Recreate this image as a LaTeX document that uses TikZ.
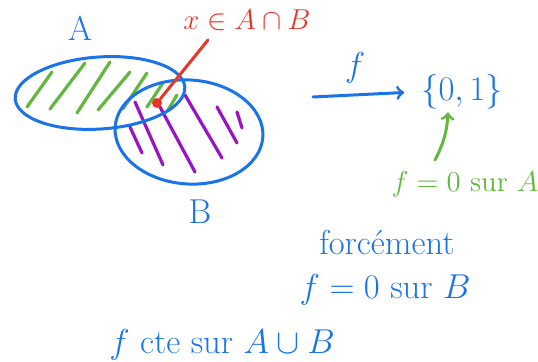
\documentclass[tikz,border=0pt]{standalone}
\usepackage{amsmath}
\usepackage{amssymb}
\usepackage{xcolor}
\definecolor{penblue}{HTML}{1A73E8}
\definecolor{pengreen}{HTML}{62B83E}
\definecolor{penred}{HTML}{E8352A}
\definecolor{penpurple}{HTML}{9A14C4}
\newcommand{\setA}{(100,269) ellipse [x radius=85, y radius=36, rotate=4]}
\newcommand{\setB}{(189,230) ellipse [x radius=74, y radius=52, rotate=-4]}

\begin{document}
\begin{tikzpicture}[x=0.5pt, y=0.5pt, every node/.style={font=\LARGE}, pen/.style={line width=1.5pt, line cap=round}, hatch/.style={line width=1.6pt, line cap=round}]

  \useasboundingbox (0,0) rectangle (538,362);

  % hatching of A and of B
  \foreach \xa/\ya/\xb/\yb in {27/255/52/290, 50/253/85/299, 77/249/110/300, 98/252/130/290, 123/253/147/289, 147/255/163/279, 168/252/177/267}
    \draw[hatch, pengreen] (\xa,\ya) -- (\xb,\yb);
  \foreach \xa/\ya/\xb/\yb in {135/260/163/197, 130/235/142/209, 160/255/195/190, 185/267/222/204, 217/255/237/219, 237/250/242/234}
    \draw[hatch, penpurple] (\xa,\ya) -- (\xb,\yb);

  \draw[pen, penblue] \setA;
  \draw[pen, penblue] \setB;
  \node[penblue] (labA) at (80,334) {A};
  \node[penblue] (labB) at (200,150) {B};

  % the point x
  \node[circle, fill=penred, inner sep=0pt, minimum size=5pt] (ptx) at (157,259) {};
  \node[penred, font=\Large] (labx) at (247,342) {$x\in A\cap B$};
  \coordinate (xtip) at (208,322);
  \draw[pen, penred] (ptx) -- (xtip);

  % the map f
  \coordinate (fstart) at (313,265);
  \node[penblue] (img) at (462,270) {$\{0,1\}$};
  \draw[pen, penblue, ->, shorten >=5pt] (fstart) -- (img.west);
  \node[penblue] (labf) at (355,294) {$f$};

  \node[pengreen, font=\Large] (onA) at (465,178) {$f=0$ sur $A$};
  \coordinate (gfoot) at (435,202);
  \draw[pen, pengreen, ->] (gfoot) to[bend right=12] ([xshift=-7pt, yshift=2pt]img.south);

  \node[penblue] (force) at (387,119) {forcément};
  \node[penblue] (onB) at (385,72) {$f=0$ sur $B$};
  \node[penblue] (onAB) at (222,17) {$f$ cte sur $A\cup B$};

\end{tikzpicture}
\end{document}
